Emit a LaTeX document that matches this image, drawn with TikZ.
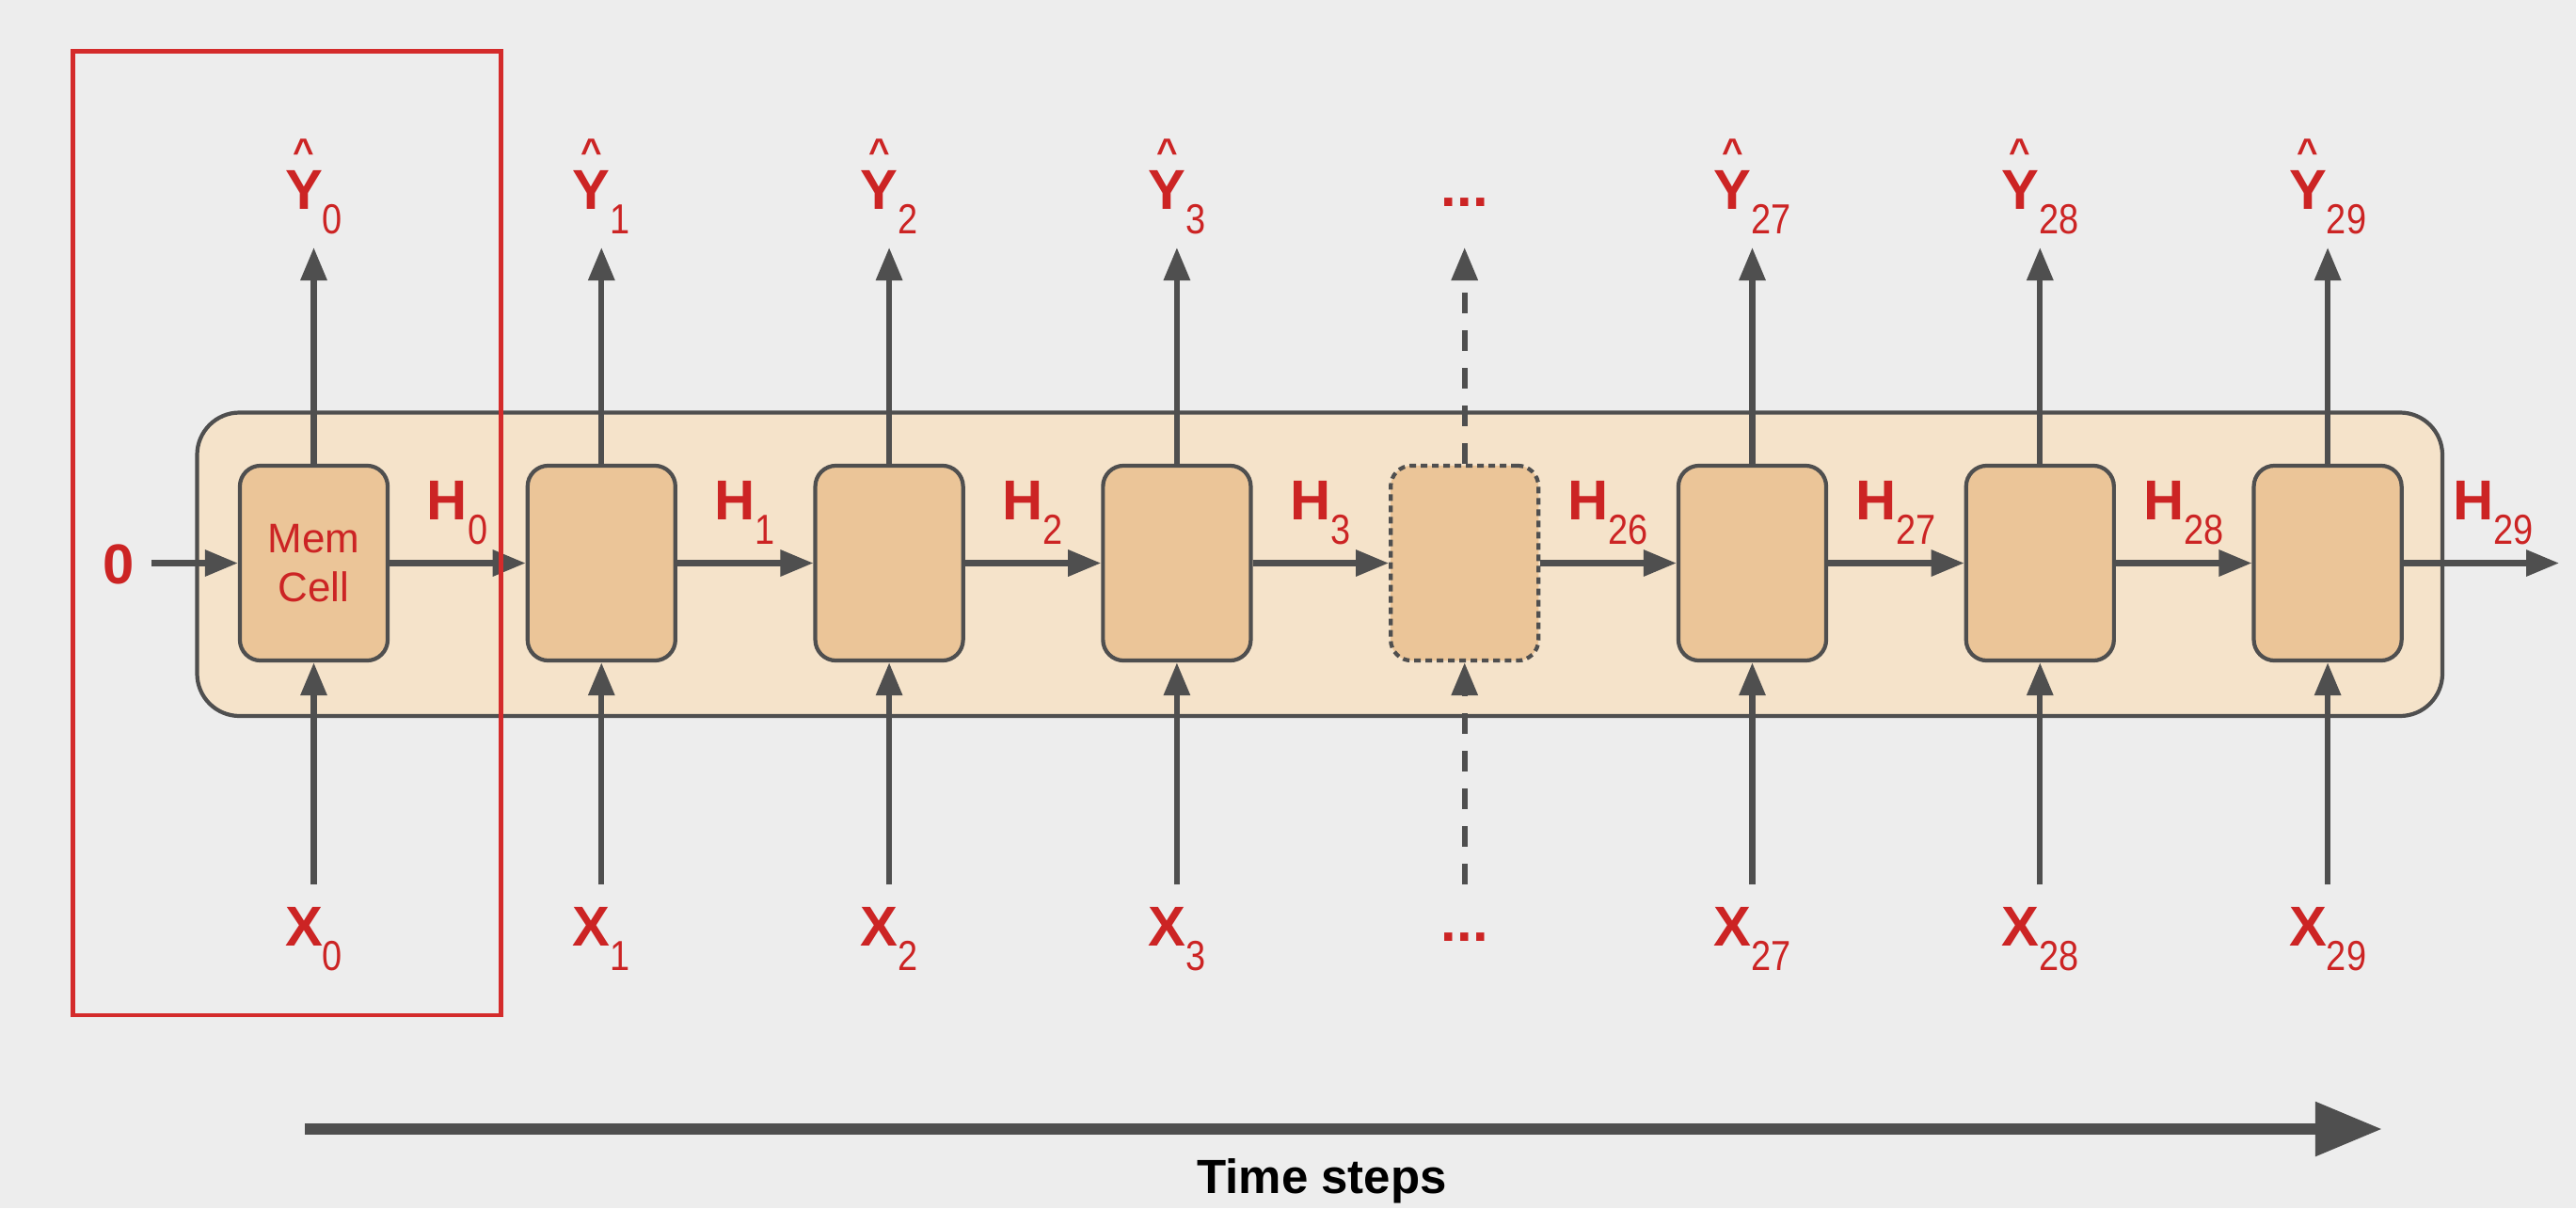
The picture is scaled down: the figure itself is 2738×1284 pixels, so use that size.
\documentclass[tikz,border=0pt]{standalone}
\usepackage{fontspec}
\usepackage{graphicx}
\setmainfont{Liberation Sans}
\usetikzlibrary{arrows.meta}
\definecolor{bg}{HTML}{EDEDED}
\definecolor{lred}{HTML}{CC2424}
\definecolor{boxred}{HTML}{D42B2B}
\definecolor{agray}{HTML}{4F4F4F}
\definecolor{outerfill}{HTML}{F5E3CA}
\definecolor{cellfill}{HTML}{EBC598}
\newcommand\subtxt[1]{\raisebox{-7.4pt}{\fontsize{12.7}{12.7}\selectfont\mdseries\scalebox{0.85}[1]{#1}}}
\newcommand\hatY{\rlap{\hbox to \fontcharwd\font`Y{\hss\raisebox{13.6pt}{\fontsize{11}{11}\selectfont\textasciicircum}\hss}}Y}
\newcommand\ylab[1]{{\bfseries\hatY}\subtxt{#1}}
\newcommand\xlab[2]{\textbf{#1}\subtxt{#2}}
\tikzset{
  lbl/.style={text=lred, font=\fontsize{17}{17}\selectfont, inner sep=0pt, anchor=base},
  cell/.style={draw=agray, fill=cellfill, line width=1.2pt, rounded corners=0.22cm,
    minimum width=1.57cm, minimum height=2.07cm, inner sep=0pt},
  dcell/.style={cell, dash pattern=on 0.07cm off 0.05cm},
  conn/.style={draw=agray, line width=1.8pt, -{Triangle[length=0.35cm, width=0.27cm]}},
  dconn/.style={conn, dash pattern=on 0.22cm off 0.18cm},
}
\begin{document}
\begin{tikzpicture}[x=0.01cm,y=-0.01cm]
\fill[bg] (0,0) rectangle (2738,1284);
\useasboundingbox (0,0) rectangle (2738,1284);
% outer rounded band
\draw[draw=agray, fill=outerfill, line width=1.2pt, rounded corners=0.45cm] (209.5,438.5) rectangle (2596,761);
% cells
\node[cell, align=center, text=lred, font=\fontsize{12.5}{15}\selectfont] (c0) at (333.5,598.5) {Mem\\Cell};
\node[cell]  (c1) at (639.3,598.5) {};
\node[cell]  (c2) at (945.1,598.5) {};
\node[cell]  (c3) at (1250.9,598.5) {};
\node[dcell] (c4) at (1556.7,598.5) {};
\node[cell]  (c5) at (1862.5,598.5) {};
\node[cell]  (c6) at (2168.3,598.5) {};
\node[cell]  (c7) at (2474.1,598.5) {};
% input zero and output
\node[lbl, anchor=center, font=\fontsize{17}{17}\selectfont\bfseries] (zero) at (126,600) {0};
\coordinate (in0) at (161,598.5);
\coordinate (out) at (2720,598.5);
\draw[conn] (in0) -- (c0.west);
\draw[conn] (c0) -- (c1);
\draw[conn] (c1) -- (c2);
\draw[conn] (c2) -- (c3);
\draw[conn] (c3) -- (c4);
\draw[conn] (c4) -- (c5);
\draw[conn] (c5) -- (c6);
\draw[conn] (c6) -- (c7);
\draw[conn] (c7) -- (out);
% H labels
\node[lbl] (h0) at (486,552) {\xlab{H}{0}};
\node[lbl] (h1) at (791.8,552) {\xlab{H}{1}};
\node[lbl] (h2) at (1097.6,552) {\xlab{H}{2}};
\node[lbl] (h3) at (1403.4,552) {\xlab{H}{3}};
\node[lbl] (h26) at (1709.2,552) {\xlab{H}{26}};
\node[lbl] (h27) at (2015,552) {\xlab{H}{27}};
\node[lbl] (h28) at (2320.8,552) {\xlab{H}{28}};
\node[lbl] (h29) at (2650,552) {\xlab{H}{29}};
% up arrow ends and down arrow starts
\foreach \i/\x in {0/333.5,1/639.3,2/945.1,3/1250.9,4/1556.7,5/1862.5,6/2168.3,7/2474.1}{
  \coordinate (u\i) at (\x,263);
  \coordinate (d\i) at (\x,940);
}
\foreach \i in {0,1,2,3,5,6,7}{
  \draw[conn] (c\i.north) -- (u\i);
  \draw[conn] (d\i) -- (c\i.south);
}
\draw[dconn] (c4.north) -- (u4);
\draw[dconn] (d4) -- (c4.south);
% Y hat labels
\node[lbl] (y0) at (333.5,222) {\ylab{0}};
\node[lbl] (y1) at (639.3,222) {\ylab{1}};
\node[lbl] (y2) at (945.1,222) {\ylab{2}};
\node[lbl] (y3) at (1250.9,222) {\ylab{3}};
\node[lbl] (ydots) at (1556.7,219) {\textbf{...}};
\node[lbl] (y27) at (1862.5,222) {\ylab{27}};
\node[lbl] (y28) at (2168.3,222) {\ylab{28}};
\node[lbl] (y29) at (2474.1,222) {\ylab{29}};
% X labels
\node[lbl] (x0) at (333.5,1005) {\xlab{X}{0}};
\node[lbl] (x1) at (639.3,1005) {\xlab{X}{1}};
\node[lbl] (x2) at (945.1,1005) {\xlab{X}{2}};
\node[lbl] (x3) at (1250.9,1005) {\xlab{X}{3}};
\node[lbl] (xdots) at (1556.7,1000) {\textbf{...}};
\node[lbl] (x27) at (1862.5,1005) {\xlab{X}{27}};
\node[lbl] (x28) at (2168.3,1005) {\xlab{X}{28}};
\node[lbl] (x29) at (2474.1,1005) {\xlab{X}{29}};
% time arrow
\coordinate (ts) at (324,1200);
\coordinate (te) at (2532,1200);
\draw[agray, line width=0.12cm, -{Triangle[length=0.71cm, width=0.55cm]}] (ts) -- (te);
\node[font=\fontsize{14.5}{14.5}\selectfont\bfseries, text=black, inner sep=0pt] (tlabel) at (1405,1255) {Time steps};
% red highlight box
\draw[boxred, line width=1.3pt] (77.5,54.7) rectangle (532.7,1079);
\end{tikzpicture}
\end{document}
